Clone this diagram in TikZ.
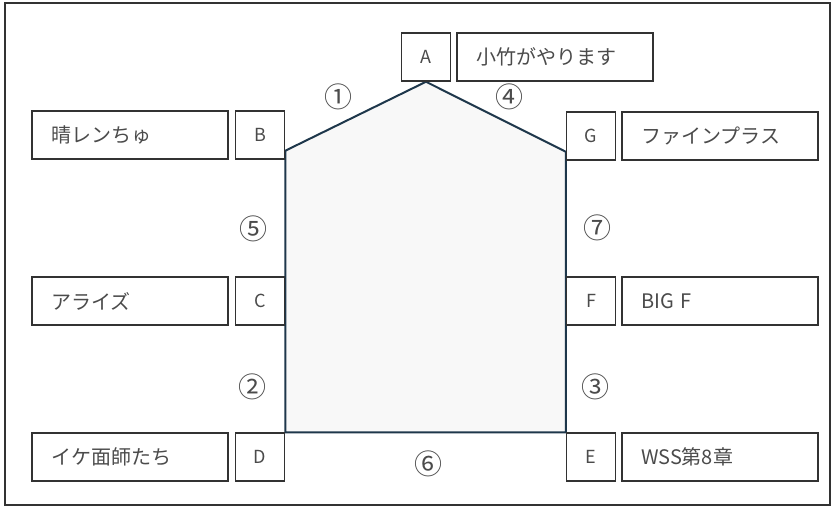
\documentclass[tikz,border=0pt]{standalone}
\usepackage{fontspec}
\setmainfont{Noto Sans CJK JP}
\usetikzlibrary{positioning,backgrounds}
\definecolor{lineink}  {RGB}{ 50, 50, 50}
\definecolor{textink}  {RGB}{ 75, 75, 75}
\definecolor{houseedge}{RGB}{ 30, 55, 75}
\definecolor{housefill}{RGB}{248,248,248}

\begin{document}
\begin{tikzpicture}[
    x=1pt, y=-1pt,
    node distance=6pt,
    letterbox/.style={draw=lineink, line width=1.5pt, minimum width=49pt, minimum height=48pt, inner sep=0pt, text=textink, font=\fontsize{18}{20}\selectfont},
    namebox/.style={draw=lineink, line width=1.5pt, text width=158pt, inner xsep=19pt, minimum height=48pt, align=left, text=textink, font=\fontsize{20}{22}\selectfont},
    numlabel/.style={inner sep=0pt, text=textink, font=\fontsize{28}{30}\selectfont},
    house/.style={draw=houseedge, fill=housefill, line width=2pt, line join=miter},
    frame/.style={draw=lineink, line width=1.5pt}
]
    \useasboundingbox (0,0) rectangle (835,513);
    \draw[frame] (5,3) rectangle (830,505);

    \node[letterbox] (boxA) at (426,57) {A};
    \node[namebox] (nameA) [right=5pt of boxA] {小竹がやります};
    \node[letterbox] (boxB) at (260,135) {B};
    \node[namebox] (nameB) [left=of boxB] {晴レンちゅ};
    \node[letterbox] (boxC) at (260,301) {C};
    \node[namebox] (nameC) [left=of boxC] {アライズ};
    \node[letterbox] (boxD) at (260,457) {D};
    \node[namebox] (nameD) [left=of boxD] {イケ面師たち};
    \node[letterbox] (boxG) at (591,136) {G};
    \node[namebox] (nameG) [right=5pt of boxG] {ファインプラス};
    \node[letterbox] (boxF) at (591,301) {F};
    \node[namebox] (nameF) [right=5pt of boxF] {BIG F};
    \node[letterbox] (boxE) at (591,457) {E};
    \node[namebox] (nameE) [right=5pt of boxE] {WSS第8章};

    \begin{scope}[on background layer]
        \draw[house] (boxA.south) -- ([yshift=9pt]boxB.south east) -- (boxD.north east)
            -- (boxE.north west) -- ([yshift=9pt]boxG.south west) -- cycle;
    \end{scope}

    \node[numlabel] (n1) at (338,97) {①};
    \node[numlabel] (n4) at (509,97) {④};
    \node[numlabel] (n5) at (253,229) {⑤};
    \node[numlabel] (n7) at (597,228) {⑦};
    \node[numlabel] (n2) at (252,387) {②};
    \node[numlabel] (n3) at (595,387) {③};
    \node[numlabel] (n6) at (428,464) {⑥};
\end{tikzpicture}
\end{document}
